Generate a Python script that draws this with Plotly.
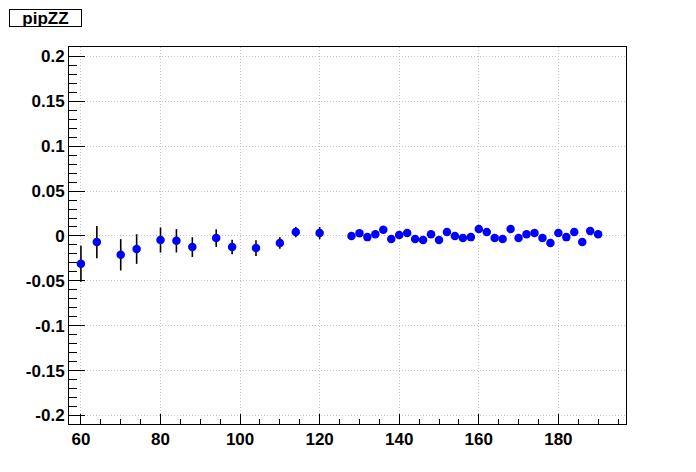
import plotly.graph_objects as go

x_vals = [60, 64, 70, 74, 80, 84, 88, 94, 98, 104, 110, 114, 120,
          128, 130, 132, 134, 136, 138, 140, 142, 144, 146, 148, 150,
          152, 154, 156, 158, 160, 162, 164, 166, 168, 170, 172, 174,
          176, 178, 180, 182, 184, 186, 188, 190]
y_vals = [-0.031, -0.0068, -0.021, -0.0146, -0.0046, -0.0054, -0.0124, -0.0024,
          -0.0124, -0.0135, -0.0079, 0.0043, 0.0032,
          0.0000, 0.0030, -0.0013, 0.0020, 0.0069, -0.0035, 0.0010, 0.0032,
          -0.0035, -0.0046, 0.0020, -0.0046, 0.0043, 0.0000, -0.0024, -0.0013,
          0.0077, 0.0043, -0.0024, -0.0035, 0.0077, -0.0024, 0.0020, 0.0032,
          -0.0024, -0.0079, 0.0032, -0.0013, 0.0043, -0.0068, 0.0055, 0.0020]
y_errs = [0.020, 0.018, 0.0175, 0.0165, 0.014, 0.013, 0.011, 0.0098, 0.0081,
          0.0087, 0.0064, 0.0058, 0.0069] + [0.004] * 32

title_text = "pipZZ"

fig = go.Figure()
fig.add_trace(go.Scatter(
    x=x_vals, y=y_vals, mode="markers",
    marker=dict(color="#0000ff", size=8.5, symbol="circle"),
    error_y=dict(type="data", array=y_errs, visible=True,
                 color="black", thickness=1.6, width=0),
    showlegend=False,
))

tickfont = dict(family="Liberation Sans, Arial, sans-serif", size=17,
                color="black", weight="bold")

# page has an 8px body margin, so the figure is sized to fit the window
W, H = 688, 464
L, R, T, B = 61, 70, 39, 48
PW, PH = W - L - R, H - T - B

fig.update_layout(
    width=W, height=H,
    margin=dict(l=L, r=R, t=T, b=B),
    paper_bgcolor="white", plot_bgcolor="white",
    xaxis=dict(range=[57, 197], showline=True, linecolor="black", linewidth=1,
               mirror=True, ticks="inside", ticklen=10, tickcolor="black",
               tickwidth=1, dtick=20, tick0=0, tickfont=tickfont,
               showgrid=True, gridcolor="#c4c4c4", griddash="1px,2px",
               gridwidth=1, zeroline=False,
               minor=dict(dtick=5, ticks="inside", ticklen=5, tickcolor="black",
                          showgrid=False)),
    yaxis=dict(range=[-0.2095, 0.2105], showline=True, linecolor="black",
               linewidth=1, mirror=True, ticks="inside", ticklen=16,
               tickcolor="black", tickwidth=1, tickfont=tickfont,
               showgrid=True, gridcolor="#c4c4c4", griddash="1px,2px",
               gridwidth=1, zeroline=False,
               tickvals=[-0.2, -0.15, -0.1, -0.05, 0, 0.05, 0.1, 0.15, 0.2],
               ticktext=["-0.2", "-0.15", "-0.1", "-0.05", "0", "0.05", "0.1",
                         "0.15", "0.2"],
               minor=dict(dtick=0.01, ticks="inside", ticklen=8,
                          tickcolor="black", showgrid=False)),
    annotations=[dict(
        text=title_text, xref="paper", yref="paper",
        x=(-L + 0.5) / PW, y=1 + (T - 0.5) / PH,
        xanchor="left", yanchor="top", showarrow=False,
        font=dict(family="Liberation Sans, Arial, sans-serif", size=17,
                  color="black", weight="bold"),
        bgcolor="white", bordercolor="black", borderwidth=1,
        width=71, height=16, borderpad=0,
    )],
)

fig.write_html("out.html")
